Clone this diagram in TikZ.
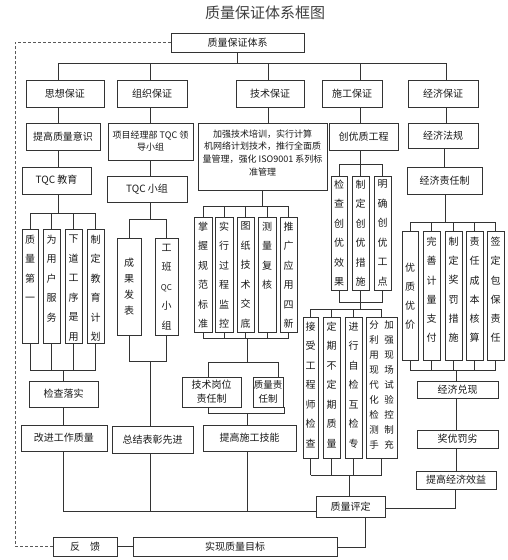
\documentclass[tikz,border=0pt]{standalone}
\usepackage{fontspec}
\setmainfont{Noto Sans CJK SC}
% vertical text: #1 box height, #2 top pad, #3 line pitch, #4 text
\newcommand\vcolt[4]{\parbox[c][#1pt][t]{14pt}{\vspace*{#2pt}\centering\fontsize{10}{#3}\selectfont #4}}
\begin{document}
\begin{tikzpicture}[x=1pt,y=-1pt,
  ln/.style={draw=black!80,line width=0.8pt},
  bx/.style={draw=black!80,line width=0.8pt,rectangle,inner sep=0pt,text=black!90,align=center,font=\fontsize{10}{13}\selectfont},
  wh/.style 2 args={minimum width=#1pt,minimum height=#2pt},
  fb/.style={draw=black!65,line width=0.8pt,dash pattern=on 3pt off 2pt}]
\useasboundingbox (0,0) rectangle (507,560);

\node[text=black!75,font=\fontsize{15}{18}\selectfont] (title) at (265,13) {质量保证体系框图};

% level 1-2
\node[bx,wh={133}{19}] (top) at (237.5,42.5) {质量保证体系};
\node[bx,wh={78}{27}] (sx) at (65,93.5) {思想保证};
\node[bx,wh={70}{27}] (zz) at (152,93.5) {组织保证};
\node[bx,wh={68}{27}] (js) at (270,93.5) {技术保证};
\node[bx,wh={60}{27}] (sg) at (352,93.5) {施工保证};
\node[bx,wh={70}{27}] (jj) at (443,93.5) {经济保证};

% level 3
\node[bx,wh={74}{27}] (k1) at (63,136.5) {提高质量意识};
\node[bx,wh={85}{37},font=\fontsize{9}{12}\selectfont] (z1) at (150.5,141.5) {项目经理部 TQC 领\\导小组};
\node[bx] (j1) at (262.5,156.5) {\parbox[c][67pt][t]{129pt}{\vspace*{6.5pt}\centering\fontsize{9}{12.7}\selectfont 加强技术培训，实行计算\\机网络计划技术，推行全面质\\量管理，强化 ISO9001 系列标\\准管理}};
\node[bx,wh={69}{27}] (c1) at (363.5,136.5) {创优质工程};
\node[bx,wh={70}{25}] (f1) at (443,135.5) {经济法规};

% level 4
\node[bx,wh={69}{27}] (k2) at (56.5,180.5) {TQC 教育};
\node[bx,wh={80}{26}] (z2) at (147,189) {TQC 小组};
\node[bx,wh={75}{27}] (f2) at (444.5,180.5) {经济责任制};

% columns: thought
\node[bx,minimum width=16pt] (q1) at (30,286) {\vcolt{114}{6}{19.5}{质\\量\\第\\一}};
\node[bx,minimum width=17pt] (q2) at (51.5,286) {\vcolt{114}{6}{19.5}{为\\用\\户\\服\\务}};
\node[bx,minimum width=17pt] (q3) at (73.5,286) {\vcolt{114}{6}{19.5}{下\\道\\工\\序\\是\\用}};
\node[bx,minimum width=17pt] (q4) at (95.5,286) {\vcolt{114}{6}{19.5}{制\\定\\教\\育\\计\\划}};

% columns: organisation
\node[bx,minimum width=24pt] (o1) at (129,286.5) {\vcolt{97}{20}{16}{成\\果\\发\\表}};
\node[bx,minimum width=23pt] (o2) at (166.5,286.5) {\vcolt{97}{6}{19.5}{工\\班\\{\fontsize{8}{10}\selectfont QC}\\小\\组}};

% columns: technique
\node[bx,minimum width=18pt] (t1) at (203,274.5) {\vcolt{115}{5}{19.5}{掌\\握\\规\\范\\标\\准}};
\node[bx,minimum width=18pt] (t2) at (224,274.5) {\vcolt{115}{5}{19.5}{实\\行\\过\\程\\监\\控}};
\node[bx,minimum width=17pt] (t3) at (245.5,274.5) {\vcolt{115}{5}{19.5}{图\\纸\\技\\术\\交\\底}};
\node[bx,minimum width=18pt] (t4) at (267,274.5) {\vcolt{115}{5}{19.5}{测\\量\\复\\核}};
\node[bx,minimum width=17pt] (t5) at (288.5,274.5) {\vcolt{115}{5}{19.5}{推\\广\\应\\用\\四\\新}};

\node[bx,wh={59}{30},font=\fontsize{10}{14}\selectfont] (g1) at (211.5,392) {技术岗位\\责任制};
\node[bx,wh={30}{30},font=\fontsize{9.5}{14}\selectfont] (g2) at (268,392) {质量责\\任制};
\node[bx,wh={93}{26}] (g3) at (249.5,438) {提高施工技能};

% columns: construction
\node[bx,minimum width=16pt] (s1) at (339,233) {\vcolt{114}{4}{19.5}{检\\查\\创\\优\\效\\果}};
\node[bx,minimum width=17pt] (s2) at (360.5,233) {\vcolt{114}{4}{19.5}{制\\定\\创\\优\\措\\施}};
\node[bx,minimum width=17pt] (s3) at (382.5,233) {\vcolt{114}{4}{19.5}{明\\确\\创\\优\\工\\点}};

\node[bx,minimum width=15pt] (u1) at (310.5,387.5) {\vcolt{141}{5}{19.5}{接\\受\\工\\程\\师\\检\\查}};
\node[bx,minimum width=17pt] (u2) at (331.5,387.5) {\vcolt{141}{5}{19.5}{定\\期\\不\\定\\期\\质\\量}};
\node[bx,minimum width=17pt] (u3) at (353.5,387.5) {\vcolt{141}{5}{19.5}{进\\行\\自\\检\\互\\检\\专}};
\node[bx,minimum width=31pt] (u4) at (381.5,387.5) {\parbox[c][141pt][t]{30pt}{\vspace*{4pt}\centering\fontsize{9.5}{15}\selectfont\parbox[t]{11pt}{\centering 分\\利\\用\\现\\代\\化\\检\\测\\手}\hspace{4pt}\parbox[t]{11pt}{\centering 加\\强\\现\\场\\试\\验\\控\\制\\充}}};

% columns: economy
\node[bx,minimum width=16pt] (e1) at (410,295.5) {\vcolt{129}{32}{19}{优\\质\\优\\价}};
\node[bx,minimum width=17pt] (e2) at (431.5,295.5) {\vcolt{129}{6}{19.3}{完\\善\\计\\量\\支\\付}};
\node[bx,minimum width=17pt] (e3) at (453.5,295.5) {\vcolt{129}{6}{19.3}{制\\定\\奖\\罚\\措\\施}};
\node[bx,minimum width=17pt] (e4) at (474.5,295.5) {\vcolt{129}{6}{19.3}{责\\任\\成\\本\\核\\算}};
\node[bx,minimum width=17pt] (e5) at (495.5,295.5) {\vcolt{129}{6}{19.3}{签\\定\\包\\保\\责\\任}};

% lower boxes
\node[bx,wh={69}{26}] (k3) at (63.5,394) {检查落实};
\node[bx,wh={86}{26}] (k4) at (64,438) {改进工作质量};
\node[bx,wh={81}{27}] (z3) at (152.5,439.5) {总结表彰先进};
\node[bx,wh={81}{17}] (f3) at (457.5,389.5) {经济兑现};
\node[bx,wh={81}{18}] (f4) at (457.5,439) {奖优罚劣};
\node[bx,wh={80}{18}] (f5) at (456,480) {提高经济效益};
\node[bx,wh={69}{21}] (pd) at (350.5,506.5) {质量评定};
\node[bx,wh={204}{19}] (mb) at (235,546.5) {实现质量目标};
\node[bx,wh={64}{19}] (fk) at (85,546.5) {反\quad 馈};

% ---- connectors ----
\coordinate (b1) at (58,63); \coordinate (b2) at (150,63); \coordinate (b3) at (268,63);
\coordinate (b4) at (360,63); \coordinate (b5) at (446,63);
\draw[ln] (top.south) -- (top.south |- b1);
\draw[ln] (b1) -- (b5);
\foreach \b/\m in {b1/sx,b2/zz,b3/js,b4/sg,b5/jj} \draw[ln] (\b) -- (\b |- \m.north);
\coordinate (bot) at (0,511);

% thought
\draw[ln] (b1 |- sx.south) -- (b1 |- k1.north);
\draw[ln] (b1 |- k1.south) -- (b1 |- k2.north);
\coordinate (qa) at (58,213);
\draw[ln] (qa |- k2.south) -- (qa);
\draw[ln] (q1.north |- qa) -- (q4.north |- qa);
\foreach \m in {q1,q2,q3,q4} \draw[ln] (\m.north |- qa) -- (\m.north);
\coordinate (qb) at (63,370);
\foreach \m in {q1,q2,q3,q4} \draw[ln] (\m.south) -- (\m.south |- qb);
\draw[ln] (q1.south |- qb) -- (q4.south |- qb);
\draw[ln] (qb) -- (qb |- k3.north);
\draw[ln] (qb |- k3.south) -- (qb |- k4.north);
\draw[ln] (qb |- k4.south) -- (qb |- bot) -- (pd.west |- bot);

% organisation
\draw[ln] (b2 |- zz.south) -- (b2 |- z1.north);
\draw[ln] (b2 |- z1.south) -- (b2 |- z2.north);
\coordinate (oa) at (150,219);
\draw[ln] (oa |- z2.south) -- (oa);
\draw[ln] (o1.north |- oa) -- (o2.north |- oa);
\foreach \m in {o1,o2} \draw[ln] (\m.north |- oa) -- (\m.north);
\coordinate (ob) at (150,361);
\foreach \m in {o1,o2} \draw[ln] (\m.south) -- (\m.south |- ob);
\draw[ln] (o1.south |- ob) -- (o2.south |- ob);
\draw[ln] (ob) -- (ob |- z3.north);
\draw[ln] (ob |- z3.south) -- (ob |- bot);

% technique
\draw[ln] (b3 |- js.south) -- (b3 |- j1.north);
\coordinate (ta) at (262,206);
\draw[ln] (ta |- j1.south) -- (ta);
\draw[ln] (t1.north |- ta) -- (t5.north |- ta);
\foreach \m in {t1,t2,t3,t4,t5} \draw[ln] (\m.north |- ta) -- (\m.north);
\coordinate (tb) at (247,338);
\foreach \m in {t1,t2,t3,t4,t5} \draw[ln] (\m.south) -- (\m.south |- tb);
\draw[ln] (t1.south |- tb) -- (t5.south |- tb);
\coordinate (tc) at (247,362);
\coordinate (gx) at (208,0); \coordinate (gy) at (278,0); \coordinate (gz) at (284,0);
\draw[ln] (tb) -- (tc);
\draw[ln] (gx |- tc) -- (gy |- tc);
\draw[ln] (gx |- tc) -- (gx |- g1.north);
\draw[ln] (gy |- tc) -- (gy |- g2.north);
\coordinate (td) at (247,413);
\draw[ln] (gx |- g1.south) -- (gx |- td) -- (gz |- td) -- (gz |- g2.south);
\draw[ln] (td) -- (td |- g3.north);
\draw[ln] (td |- g3.south) -- (td |- bot);

% construction
\draw[ln] (b4 |- sg.south) -- (b4 |- c1.north);
\coordinate (sa) at (360,164);
\draw[ln] (sa |- c1.south) -- (sa);
\draw[ln] (s1.north |- sa) -- (s3.north |- sa);
\foreach \m in {s1,s2,s3} \draw[ln] (\m.north |- sa) -- (\m.north);
\coordinate (sb) at (360,302);
\foreach \m in {s1,s2,s3} \draw[ln] (\m.south) -- (\m.south |- sb);
\draw[ln] (s1.south |- sb) -- (s3.south |- sb);
\coordinate (sc) at (360,309);
\draw[ln] (sb) -- (sc);
\draw[ln] (u1.north |- sc) -- (u4.north |- sc);
\foreach \m in {u1,u2,u3,u4} \draw[ln] (\m.north |- sc) -- (\m.north);
\coordinate (sd) at (349,475);
\foreach \m in {u1,u2,u3,u4} \draw[ln] (\m.south) -- (\m.south |- sd);
\draw[ln] (u1.south |- sd) -- (u4.south |- sd);
\draw[ln] (sd) -- (sd |- pd.north);

% economy
\draw[ln] (b5 |- jj.south) -- (b5 |- f1.north);
\coordinate (fa) at (444,0);
\draw[ln] (fa |- f1.south) -- (fa |- f2.north);
\coordinate (ea) at (445,222);
\draw[ln] (ea |- f2.south) -- (ea);
\draw[ln] (e1.north |- ea) -- (e5.north |- ea);
\foreach \m in {e1,e2,e3,e4,e5} \draw[ln] (\m.north |- ea) -- (\m.north);
\coordinate (eb) at (456,370);
\foreach \m in {e1,e2,e3,e4,e5} \draw[ln] (\m.south) -- (\m.south |- eb);
\draw[ln] (e1.south |- eb) -- (e5.south |- eb);
\draw[ln] (eb) -- (eb |- f3.north);
\draw[ln] (eb |- f3.south) -- (eb |- f4.north);
\draw[ln] (eb |- f4.south) -- (eb |- f5.north);
\coordinate (ec) at (455,508);
\draw[ln] (ec |- f5.south) -- (ec) -- (pd.east |- ec);

% bottom
\coordinate (pm) at (365,547);
\draw[ln] (pm |- pd.south) -- (pm) -- (mb.east |- pm);
\draw[ln] (fk.east) -- (mb.west);
\coordinate (dl) at (15,0);
\draw[fb] (fk.west) -| (dl |- top.west) -- (top.west);
\end{tikzpicture}
\end{document}
